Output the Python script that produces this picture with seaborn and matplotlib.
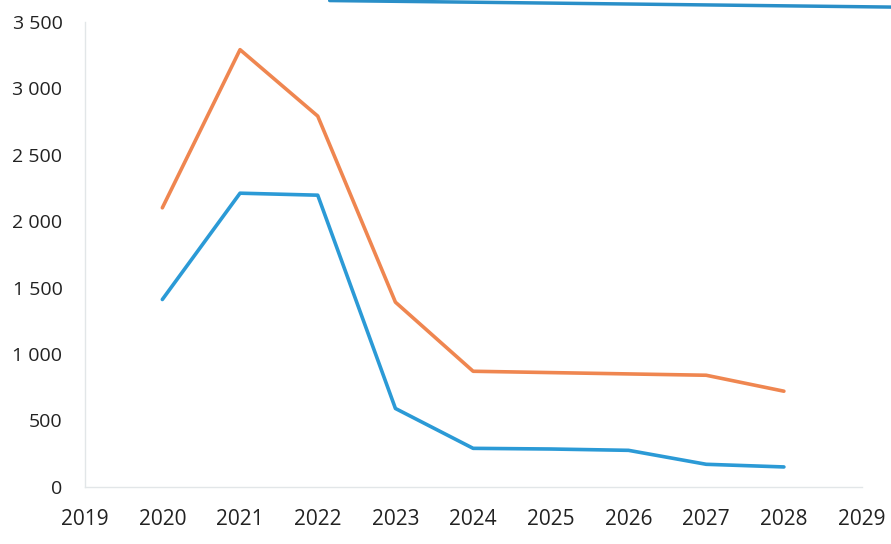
import pandas as pd
import matplotlib.pyplot as plt
import seaborn as sns
from matplotlib.lines import Line2D
from matplotlib.ticker import FuncFormatter

# values
years = [2020, 2021, 2022, 2023, 2024, 2025, 2026, 2027, 2028]
orange_vals = [2100, 3290, 2790, 1390, 870, 860, 850, 840, 720]
blue_vals = [1410, 2210, 2195, 590, 290, 285, 275, 170, 150]
x_ticks = list(range(2019, 2030))
y_ticks = [0, 500, 1000, 1500, 2000, 2500, 3000, 3500]

df = pd.DataFrame({
    'year': years * 2,
    'value': orange_vals + blue_vals,
    'series': ['orange'] * len(years) + ['blue'] * len(years),
})

sns.set_style('white')
plt.rcParams['font.family'] = ['Open Sans', 'DejaVu Sans']

fig = plt.figure(figsize=(8.91, 5.44), dpi=100)
ax = fig.add_axes([0.095, 0.105, 0.872, 0.855])

sns.lineplot(data=df, x='year', y='value', hue='series',
             palette={'orange': '#EF8650', 'blue': '#2B9AD6'},
             linewidth=2.6, legend=False, ax=ax)

ax.set_xlim(2019, 2029)
ax.set_ylim(0, 3500)
ax.set_xticks(x_ticks)
ax.set_yticks(y_ticks)
ax.yaxis.set_major_formatter(FuncFormatter(lambda v, p: f'{int(v):,}'.replace(',', ' ')))
ax.tick_params(axis='x', labelsize=15, length=0, pad=16, colors='#222222')
ax.tick_params(axis='y', labelsize=14, length=0, pad=16, colors='#222222')
ax.set_xlabel('')
ax.set_ylabel('')

for side in ['top', 'right']:
    ax.spines[side].set_visible(False)
for side in ['left', 'bottom']:
    ax.spines[side].set_color('#e2e6e8')
    ax.spines[side].set_linewidth(1.0)

# blue border fragment visible at the top of the scan
fig.add_artist(Line2D([0.37, 1.0], [0.999, 0.987], transform=fig.transFigure,
                      color='#2a8fc8', linewidth=2.5))

fig.savefig('out.png', dpi=100, facecolor='white')
